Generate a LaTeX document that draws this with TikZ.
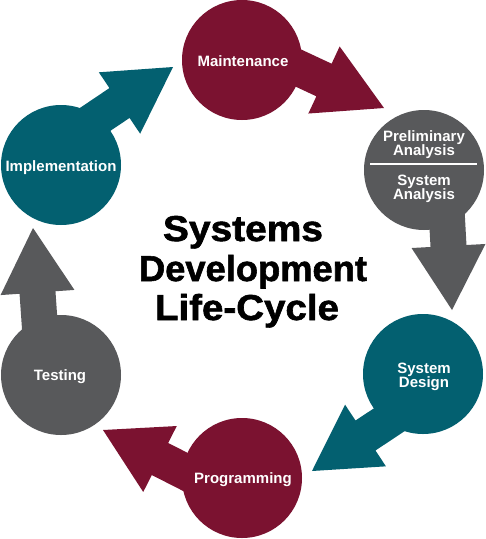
\documentclass[tikz,border=0pt]{standalone}
\usepackage{fontspec}
\setmainfont{Liberation Sans}
\newfontfamily\titlefont{Liberation Sans}[BoldFeatures={FakeBold=1.6}]
\usetikzlibrary{calc}
\definecolor{cMaroon}{RGB}{123,18,48}
\definecolor{cTeal}{RGB}{3,96,112}
\definecolor{cGray}{RGB}{88,89,91}
\newcommand{\cyclearrow}[3]{%
  \coordinate (#2s) at ($(#2)!-70pt!(#3)$);
  \fill[#1] ($(#2s)!18pt!90:(#3)$) -- ($(#2)!18pt!90:(#3)$) -- ($(#2)!37pt!90:(#3)$)
    -- (#3) -- ($(#2)!37pt!-90:(#3)$) -- ($(#2)!18pt!-90:(#3)$) -- ($(#2s)!18pt!-90:(#3)$) -- cycle;
}
\begin{document}
\begin{tikzpicture}[x=1pt,y=-1pt,
  stage/.style={circle, minimum size=120pt, inner sep=0pt, draw=none},
  lbl/.style={text=white, font=\bfseries\fontsize{15}{15}\selectfont, inner sep=0pt, anchor=base},
  title/.style={text=black, font=\titlefont\bfseries\fontsize{36}{36}\selectfont, inner sep=0pt, anchor=base}]
\fill[white] (0,0) rectangle (486,539);
\useasboundingbox (0,0) rectangle (486,539);
% arrow geometry: base midpoint (m) and tip (t)
\coordinate (m1) at (324,80);    \coordinate (t1) at (384,108);
\coordinate (m2) at (448.5,246); \coordinate (t2) at (452,310);
\coordinate (m3) at (365.5,435.5); \coordinate (t3) at (312,471);
\coordinate (m4) at (160,459);   \coordinate (t4) at (103,430);
\coordinate (m5) at (37.5,292.5); \coordinate (t5) at (33,228);
\coordinate (m6) at (119.5,103); \coordinate (t6) at (173,67);
\cyclearrow{cMaroon}{m1}{t1}
\cyclearrow{cGray}{m2}{t2}
\cyclearrow{cTeal}{m3}{t3}
\cyclearrow{cMaroon}{m4}{t4}
\cyclearrow{cGray}{m5}{t5}
\cyclearrow{cTeal}{m6}{t6}
% stages
\node[stage, fill=cMaroon] (maint) at (242,60) {};
\node[stage, fill=cGray] (prelim) at (424,170) {};
\node[stage, fill=cTeal] (design) at (423,374) {};
\node[stage, fill=cMaroon] (prog) at (242,478) {};
\node[stage, fill=cGray] (test) at (61,375) {};
\node[stage, fill=cTeal] (impl) at (61,165) {};
% labels
\node[lbl] (lmaint) at (243,66) {Maintenance};
\node[lbl] (lprel1) at (424,141) {Preliminary};
\node[lbl] (lprel2) at (424,155) {Analysis};
\coordinate (dl) at (370,164); \coordinate (dr) at (477,164);
\draw[white, line width=1.6pt] (dl) -- (dr);
\node[lbl] (lsys1) at (424,185) {System};
\node[lbl] (lsys2) at (424,199) {Analysis};
\node[lbl] (ldes1) at (424,373) {System};
\node[lbl] (ldes2) at (424,387) {Design};
\node[lbl] (lprog) at (243,483) {Programming};
\node[lbl] (ltest) at (60,380) {Testing};
\node[lbl] (limpl) at (61,171) {Implementation};
% title
\node[title] (ti1) at (243,241) {\resizebox{160pt}{\height}{Systems}};
\node[title] (ti2) at (253,281) {\resizebox{228pt}{\height}{Development}};
\node[title] (ti3) at (247,320) {\resizebox{184pt}{\height}{Life-Cycle}};
\end{tikzpicture}
\end{document}
